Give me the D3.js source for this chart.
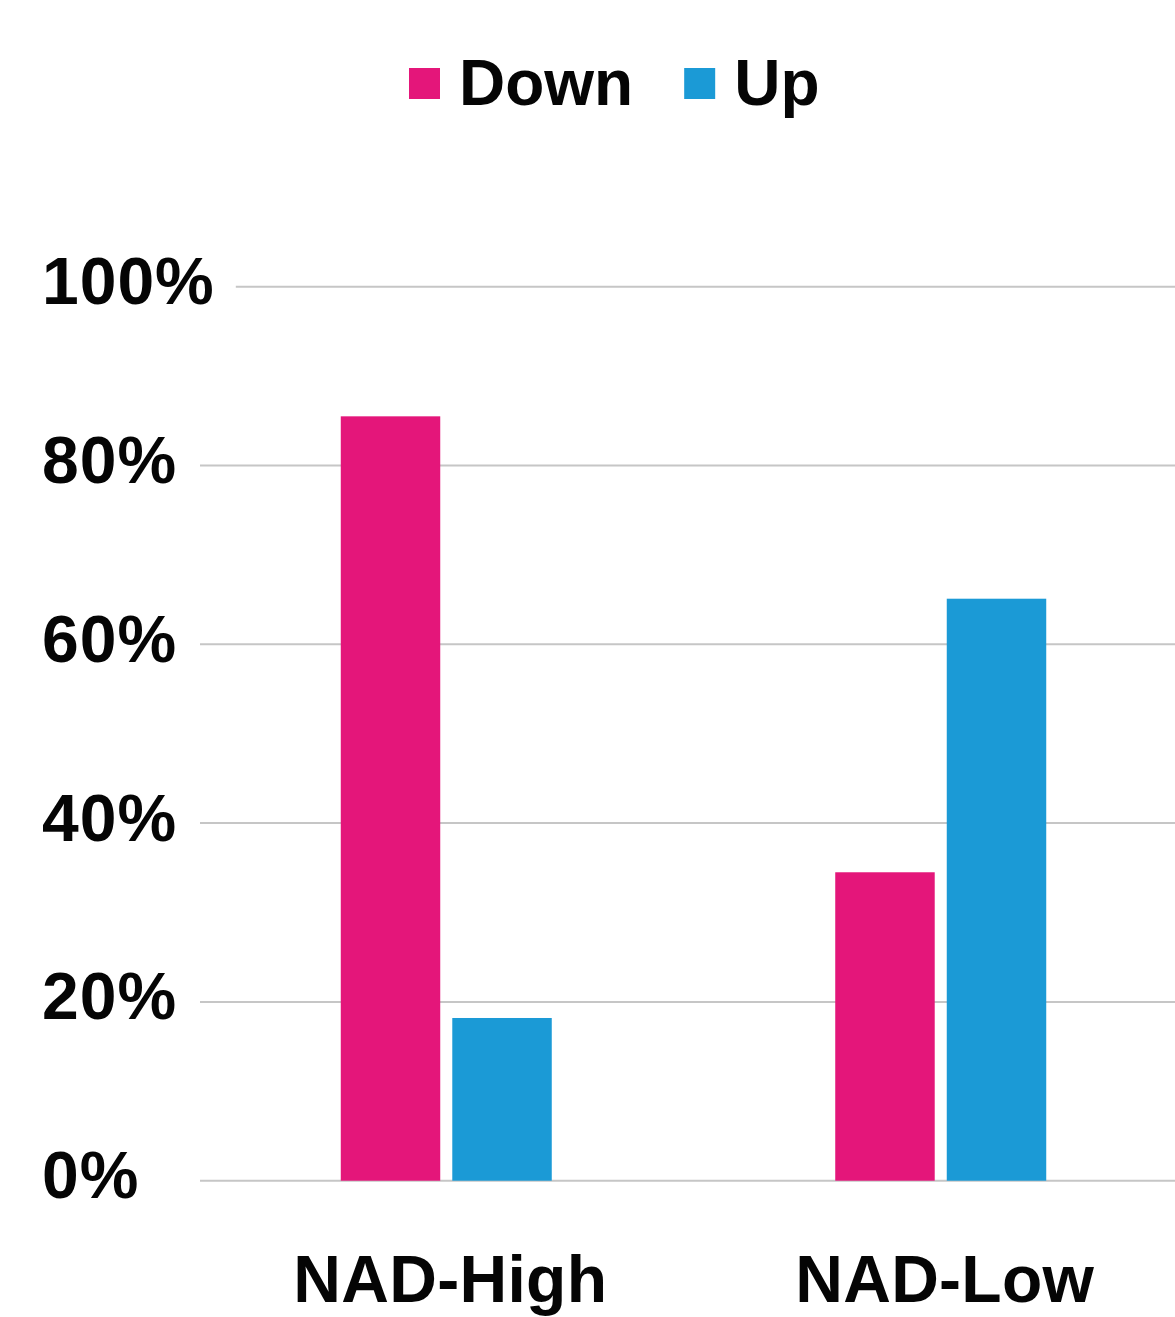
<!DOCTYPE html>
<html>
<head>
<meta charset="utf-8">
<script src="https://cdn.jsdelivr.net/npm/d3@7"></script>
<style>
  html, body { margin: 0; padding: 0; background: #ffffff; }
  svg { display: block; }
  text { font-family: "Liberation Sans", Arial, Helvetica, sans-serif; font-weight: bold; fill: #050505; }
</style>
</head>
<body>
<svg id="chart" width="1175" height="1317"></svg>
<script>
// Share of genes moving down / up in each NAD group
const categories = ["NAD-High", "NAD-Low"];
const seriesNames = ["Down", "Up"];
const downValues = [85.5, 34.5];
const upValues = [18.2, 65.1];
const seriesColors = ["#E4167A", "#1B9AD6"];
const yTicks = [0, 20, 40, 60, 80, 100];
const yTickLabels = ["0%", "20%", "40%", "60%", "80%", "100%"];

const rows = categories.map((c, i) => ({
  category: c,
  values: [
    { key: seriesNames[0], value: downValues[i] },
    { key: seriesNames[1], value: upValues[i] }
  ]
}));

const svg = d3.select("#chart");
const W = 1175;

// Plot area (the band range runs a little past the right edge)
const plotLeft = 199, plotRight = 1188;
const yTop = 286.7, yBottom = 1180.7;

const y = d3.scaleLinear().domain([0, 100]).range([yBottom, yTop]);

const x0 = d3.scaleBand()
  .domain(categories)
  .range([plotLeft, plotRight])
  .paddingInner(0.5733)
  .paddingOuter(0.2867);

const x1 = d3.scaleBand()
  .domain(seriesNames)
  .range([0, x0.bandwidth()])
  .paddingInner(0.108)
  .paddingOuter(0);

const color = d3.scaleOrdinal().domain(seriesNames).range(seriesColors);

// Y axis labels and gridlines (a gridline starts a fixed gap after its label)
const grid = svg.append("g").attr("class", "grid");
const yLabels = svg.append("g").attr("class", "y-labels");

yTicks.forEach((t, i) => {
  const label = yLabels.append("text")
    .attr("x", 42)
    .attr("y", y(t) + 17.5)
    .attr("font-size", 66)
    .attr("letter-spacing", 1)
    .text(yTickLabels[i]);
  const labelEnd = 42 + label.node().getComputedTextLength() - 1;
  const start = Math.max(plotLeft + 1, labelEnd + 22);
  grid.append("line")
    .attr("x1", start)
    .attr("x2", W)
    .attr("y1", y(t))
    .attr("y2", y(t))
    .attr("stroke", "#c6c6c6")
    .attr("stroke-width", 2);
});

// Bars
const groups = svg.append("g").attr("class", "bars")
  .selectAll("g")
  .data(rows)
  .join("g")
  .attr("transform", d => `translate(${x0(d.category)},0)`);

groups.selectAll("rect")
  .data(d => d.values)
  .join("rect")
  .attr("x", d => x1(d.key))
  .attr("width", x1.bandwidth())
  .attr("y", d => y(d.value))
  .attr("height", d => y(0) - y(d.value))
  .attr("fill", d => color(d.key));

// Category labels
svg.append("g").attr("class", "x-labels")
  .selectAll("text")
  .data(categories)
  .join("text")
  .attr("x", d => x0(d) + x0.bandwidth() / 2 + 4)
  .attr("y", 1302)
  .attr("text-anchor", "middle")
  .attr("font-size", 66)
  .attr("letter-spacing", 0.3)
  .text(d => d);

// Legend
const legend = svg.append("g").attr("class", "legend");
let lx = 409;
seriesNames.forEach(name => {
  legend.append("rect")
    .attr("x", lx)
    .attr("y", 68)
    .attr("width", 31)
    .attr("height", 31)
    .attr("fill", color(name));
  const t = legend.append("text")
    .attr("x", lx + 31 + 19)
    .attr("y", 105)
    .attr("font-size", 64)
    .text(name);
  lx = lx + 31 + 19 + t.node().getComputedTextLength() + 51;
});
</script>
</body>
</html>
